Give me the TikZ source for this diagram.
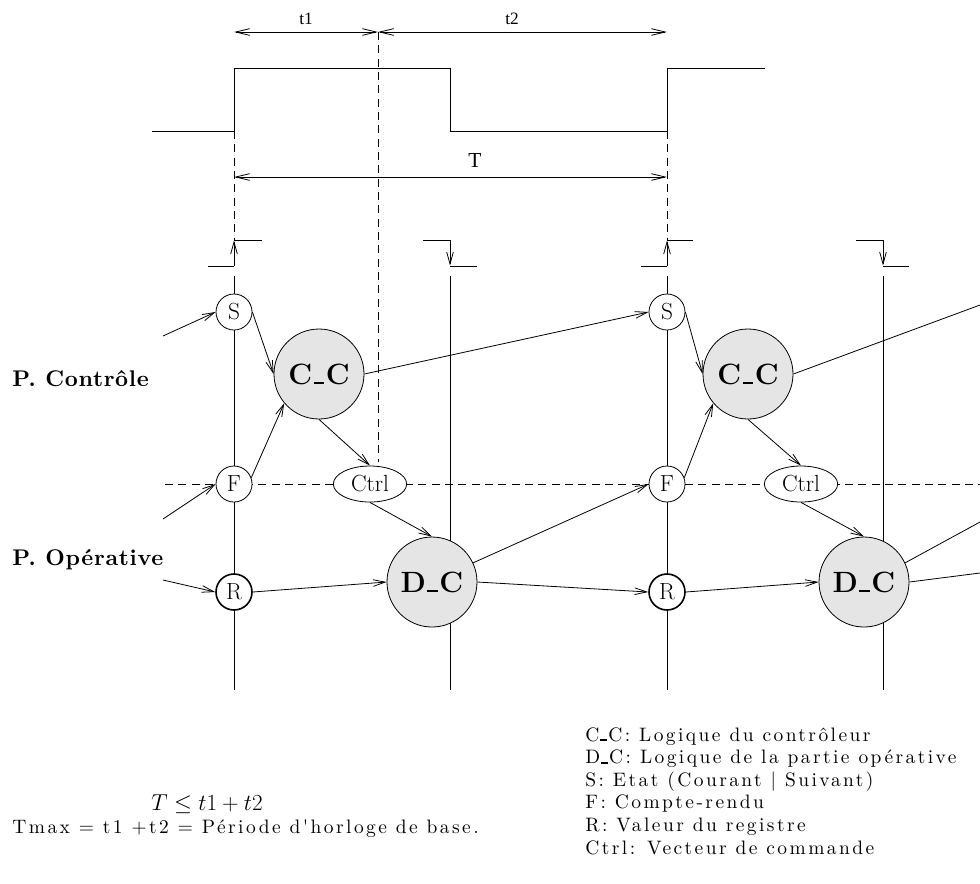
\documentclass[tikz,border=0pt]{standalone}
\usepackage{fontspec}
\usetikzlibrary{arrows.meta,shapes.geometric}
\newfontfamily\timesfont{Liberation Serif}
% widely tracked roman, as in the printed legend
\newfontfamily\spaced{lmroman10-regular.otf}[LetterSpace=12.5]
% lightly tracked bold for the part names
\newfontfamily\bspaced{lmroman10-bold.otf}[LetterSpace=3]
% thick underscore sitting on the baseline, as in the old CM fonts
\newcommand\usc{\kern.05em\rule{.36em}{.08em}\kern.05em}

\begin{document}
\begin{tikzpicture}[x=0.75pt,y=-0.75pt,line width=0.6pt,
  barb/.tip={Straight Barb[length=9pt,width=5pt]},
  longbarb/.tip={Straight Barb[length=10.5pt,width=5pt]},
  tip/.style={-barb},
  span/.style={longbarb-longbarb},
  guide/.style={dash pattern=on 6pt off 4pt},
  timelbl/.style={font=\timesfont\fontsize{13}{13}\selectfont, inner sep=0pt},
  reg/.style={circle, draw, fill=white, minimum size=27pt, inner sep=0pt,
    font=\fontsize{17.5}{17.5}\selectfont},
  regw/.style={reg, line width=1.2pt},
  logic/.style={circle, draw, fill=black!10, minimum size=67.5pt, inner sep=0pt,
    font=\fontsize{22}{22}\selectfont\bfseries},
  vec/.style={ellipse, draw, fill=white, minimum width=55pt, minimum height=27pt,
    inner sep=0pt, font=\fontsize{17.5}{17.5}\selectfont},
  part/.style={anchor=base west, inner sep=0pt, font=\bspaced\fontsize{17}{17}\selectfont},
  leg/.style={anchor=base west, inner sep=0pt, font=\spaced\fontsize{14.6}{14.6}\selectfont}
]
\useasboundingbox (0,0) rectangle (980,883);

% ---- clock waveform and its timing spans ----
\draw (152,131) -- (234,131) -- (234,68) -- (450,68) -- (450,131)
  -- (667,131) -- (667,68) -- (765,68);
\draw[guide] (378,32) -- (378,462);
\draw[guide] (234,131) -- (234,240);
\draw[guide] (667,131) -- (667,240);
\draw[span] (234,32) -- (378,32);
\draw[span] (378,32) -- (667,32);
\draw[span] (234,177) -- (667,177);
\node[timelbl] (lt1) at (306,19) {t1};
\node[timelbl] (lt2) at (512,19) {t2};
\node[timelbl, font=\timesfont\fontsize{16}{16}\selectfont] (lT) at (475,161) {T};

% ---- active edges ----
\draw (208,266) -- (234,266);
\draw[tip] (234,266) -- (234,240.5);
\draw (234,240) -- (262,240);
\draw (423,240) -- (450,240);
\draw[tip] (450,240) -- (450,265.5);
\draw (450,266) -- (477,266);
\draw (641,266) -- (667,266);
\draw[tip] (667,266) -- (667,240.5);
\draw (667,240) -- (693,240);
\draw (856,240) -- (883,240);
\draw[tip] (883,240) -- (883,265.5);
\draw (883,266) -- (909,266);

% ---- time lines ----
\foreach \x in {234,450,667,883} \draw (\x,276) -- (\x,690);

% ---- boundary between control and datapath ----
\draw[guide] (165,484) -- (980,484);

% ---- part names ----
\node[part] (pc) at (12,386) {P. Contrôle};
\node[part] (po) at (12,565) {P. Opérative};

% ---- cycle 1 ----
\node[reg]  (S1) at (234,312) {S};
\node[reg]  (F1) at (234,484) {F};
\node[regw] (R1) at (234,592) {R};
\node[logic] (CC1) at (319,374) {C\usc C};
\node[vec]  (Ct1) at (370,484) {Ctrl};
\node[logic] (DC1) at (432,582) {D\usc C};

% ---- cycle 2 ----
\node[reg]  (S2) at (667,312) {S};
\node[reg]  (F2) at (667,484) {F};
\node[regw] (R2) at (667,592) {R};
\node[logic] (CC2) at (748,374) {C\usc C};
\node[vec]  (Ct2) at (801,484) {Ctrl};
\node[logic] (DC2) at (864,582) {D\usc C};

% ---- loose ends ----
\coordinate (inS) at (163,336);
\coordinate (inF) at (163,519);
\coordinate (inR) at (163,580);
\coordinate (outC) at (980,305);
\coordinate (outF) at (980,522);
\coordinate (outR) at (980,573);

% ---- connections ----
\draw[tip] (inS) -- (S1.west);
\draw[tip] (inF) -- (F1.west);
\draw[tip] (inR) -- (R1.west);
\draw[tip] (S1.east) -- (CC1.west);
\draw[tip] (F1.20) -- (CC1.220);
\draw[tip] (CC1.south) -- (Ct1.north);
\draw[tip] (Ct1.south) -- (DC1.north);
\draw[tip] (R1.east) -- (DC1.west);
\draw[tip] (CC1.east) -- (S2.west);
\draw[tip] (DC1.25) -- (F2.west);
\draw[tip] (DC1.east) -- (R2.west);
\draw[tip] (S2.east) -- (CC2.west);
\draw[tip] (F2.20) -- (CC2.220);
\draw[tip] (CC2.south) -- (Ct2.north);
\draw[tip] (Ct2.south) -- (DC2.north);
\draw[tip] (R2.east) -- (DC2.west);
\draw (CC2.east) -- (outC);
\draw (DC2.25) -- (outF);
\draw (DC2.east) -- (outR);

% ---- timing condition ----
\node[anchor=base, inner sep=0pt, font=\fontsize{18}{18}\selectfont] (cond) at (207,810) {$T \leq t1 + t2$};
\node[leg] (tmax) at (12,833) {Tmax = t1 +t2 = Période d'horloge de base.};

% ---- legend ----
\node[leg] (lg1) at (585,741) {C\usc C: Logique du contrôleur};
\node[leg] (lg2) at (585,763.6) {D\usc C: Logique de la partie opérative};
\node[leg] (lg3) at (585,786.2) {S: Etat (Courant | Suivant)};
\node[leg] (lg4) at (585,808.8) {F: Compte-rendu};
\node[leg] (lg5) at (585,831.4) {R: Valeur du registre};
\node[leg] (lg6) at (585,854) {Ctrl: Vecteur de commande};
\end{tikzpicture}
\end{document}
